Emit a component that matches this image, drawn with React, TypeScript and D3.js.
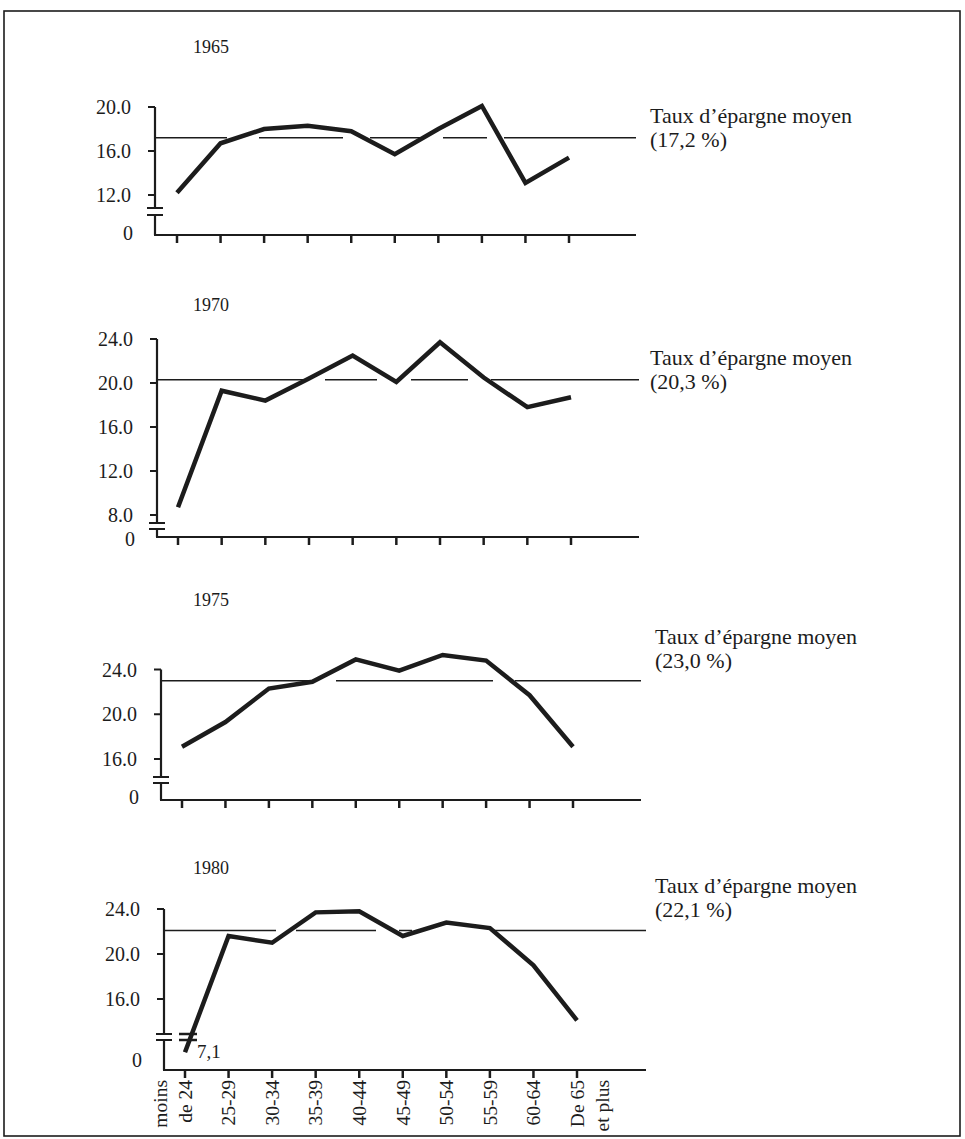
import React from 'react';
import * as d3 from 'd3';

// Savings rate by age group of household head, four survey years
const ageGroups = ['moins de 24', '25-29', '30-34', '35-39', '40-44', '45-49', '50-54', '55-59', '60-64', 'De 65 et plus'];
const years = ['1965', '1970', '1975', '1980'];

const rates1965 = [12.2, 16.7, 18.0, 18.3, 17.8, 15.7, 18.0, 20.1, 13.1, 15.4];
const rates1970 = [8.7, 19.3, 18.4, 20.4, 22.5, 20.1, 23.7, 20.5, 17.8, 18.7];
const rates1975 = [17.1, 19.3, 22.3, 22.9, 24.9, 23.9, 25.3, 24.8, 21.7, 17.1];
const rates1980 = [7.1, 21.6, 21.0, 23.7, 23.8, 21.6, 22.8, 22.3, 19.0, 14.1];

const meanRates = [17.2, 20.3, 23.0, 22.1];
const meanLabels = ['(17,2 %)', '(20,3 %)', '(23,0 %)', '(22,1 %)'];

const yTicks1965 = [20, 16, 12];
const yTicks1970 = [24, 20, 16, 12, 8];
const yTicks1975 = [24, 20, 16];
const yTicks1980 = [24, 20, 16];

// label lines for the bottom axis; `on` = which line sits on the tick
const axisLabelLines: Record<string, { lines: string[]; on: number }> = {
  'moins de 24': { lines: ['moins', 'de 24'], on: 1 },
  'De 65 et plus': { lines: ['De 65', 'et plus'], on: 0 },
};

const W = 965;
const H = 1139;
const INK = '#1c1c1c';
const FONT = '"Liberation Serif", "DejaVu Serif", serif';

// layout for each panel (pixel geometry, not data)
const layouts = [
  { values: rates1965, ticks: yTicks1965, axisX: 155, top: 107, low: 195, breakY: [208, 215], baseY: 235, zeroY: 233,
    xFirst: 177, xLast: 569, xEnd: 636, yearY: 47, labelX: 650, labelDy: [-15, 9],
    dash: '72 32 84 27 51 22 44 17 200' },
  { values: rates1970, ticks: yTicks1970, axisX: 157, top: 339, low: 515, breakY: [523, 529], baseY: 537, zeroY: 539,
    xFirst: 178, xLast: 571, xEnd: 639, yearY: 305, labelX: 650, labelDy: [-15, 9],
    dash: '148 20 52 34 57 23 200' },
  { values: rates1975, ticks: yTicks1975, axisX: 161, top: 669.5, low: 759, breakY: [777, 783], baseY: 800, zeroY: 797,
    xFirst: 182, xLast: 573, xEnd: 641, yearY: 600, labelX: 655, labelDy: [-37, -13],
    dash: '148 27 157 22 200' },
  { values: rates1980, ticks: yTicks1980, axisX: 164, top: 909, low: 999, breakY: [1034, 1040], baseY: 1070, zeroY: 1060,
    xFirst: 185, xLast: 577, xEnd: 646, yearY: 868, labelX: 655, labelDy: [-37, -13],
    dash: '112 20 80 23 13 80 200' },
];

const Panel: React.FC<{ i: number; last: boolean }> = ({ i, last }) => {
  const L = layouts[i];
  const topVal = d3.max(L.ticks)!;
  const lowVal = d3.min(L.ticks)!;

  const x = d3.scalePoint<string>().domain(ageGroups).range([L.xFirst, L.xLast]);
  const yUpper = d3.scaleLinear().domain([lowVal, topVal]).range([L.low, L.top]);
  const yLower = d3.scaleLinear().domain([0, 12]).range([L.baseY, L.breakY[1]]);
  const breakVal = yUpper.invert(L.breakY[0]);
  const y = (v: number) => (v >= breakVal ? yUpper(v) : yLower(v));

  const line = d3.line<number>()
    .x((_, j) => x(ageGroups[j])!)
    .y(d => y(d));

  const meanY = y(meanRates[i]);
  const belowBreak = L.values.map((v, j) => ({ v, j })).filter(d => d.v < breakVal);

  return (
    <g>
      <text x={193} y={L.yearY} dy="0.35em" fontSize={18} fill={INK}>{years[i]}</text>

      {/* y axis with break */}
      <line x1={L.axisX} x2={L.axisX} y1={L.top} y2={L.breakY[0]} stroke={INK} strokeWidth={2.2} />
      <line x1={L.axisX} x2={L.axisX} y1={L.breakY[1]} y2={L.baseY} stroke={INK} strokeWidth={2.2} />
      {L.breakY.map(b => (
        <line key={b} x1={L.axisX - 8} x2={L.axisX + 8} y1={b} y2={b} stroke={INK} strokeWidth={2} />
      ))}
      {L.ticks.map(t => (
        <g key={t}>
          <line x1={L.axisX - 7} x2={L.axisX} y1={yUpper(t)} y2={yUpper(t)} stroke={INK} strokeWidth={2} />
          <text x={L.axisX - 24} y={yUpper(t)} dy="0.35em" textAnchor="end" fontSize={20} fill={INK}>
            {t.toFixed(1)}
          </text>
        </g>
      ))}
      <text x={L.axisX - 22} y={L.zeroY} dy="0.35em" textAnchor="end" fontSize={20} fill={INK}>0</text>

      {/* x axis */}
      <line x1={L.axisX - 1} x2={L.xEnd} y1={L.baseY} y2={L.baseY} stroke={INK} strokeWidth={2.2} />
      {ageGroups.map(a => (
        <line key={a} x1={x(a)} x2={x(a)} y1={L.baseY} y2={L.baseY + 8} stroke={INK} strokeWidth={2.5} />
      ))}

      {/* mean line */}
      <line x1={L.axisX} x2={L.xEnd} y1={meanY} y2={meanY} stroke={INK} strokeWidth={1.5}
        strokeDasharray={L.dash} />
      <text x={L.labelX} y={meanY + L.labelDy[0]} fontSize={22} fill={INK}>Taux d’épargne moyen</text>
      <text x={L.labelX} y={meanY + L.labelDy[1]} fontSize={22} fill={INK}>{meanLabels[i]}</text>

      {/* data */}
      <path d={line(L.values)!} fill="none" stroke={INK} strokeWidth={4.5} strokeLinejoin="miter" />
      {belowBreak.map(d => (
        <g key={d.j}>
          {L.breakY.map(b => (
            <line key={b} x1={x(ageGroups[d.j])! - 6} x2={x(ageGroups[d.j])! + 12} y1={b} y2={b}
              stroke={INK} strokeWidth={2.5} />
          ))}
          <text x={x(ageGroups[d.j])! + 12} y={y(d.v) + 6} fontSize={19} fill={INK}>
            {String(d.v).replace('.', ',')}
          </text>
        </g>
      ))}

      {last && ageGroups.map(a => {
        const spec = axisLabelLines[a] ?? { lines: [a], on: 0 };
        return spec.lines.map((ln, k) => {
          const cx = x(a)! + (k - spec.on) * 25;
          return (
            <text key={a + k} transform={`translate(${cx},1080) rotate(-90)`} dy="0.35em"
              textAnchor="end" fontSize={19.5} fill={INK}>{ln}</text>
          );
        });
      })}
    </g>
  );
};

export default function App() {
  return (
    <svg width={W} height={H} viewBox={`0 0 ${W} ${H}`}
      style={{ position: 'absolute', left: 0, top: 0, background: '#fff', fontFamily: FONT }}>
      <rect x={0} y={0} width={W} height={H} fill="#fff" />
      <rect x={4} y={11} width={956} height={1125} fill="none" stroke={INK} strokeWidth={1.6} />
      {years.map((_, i) => (
        <Panel key={i} i={i} last={i === years.length - 1} />
      ))}
    </svg>
  );
}
